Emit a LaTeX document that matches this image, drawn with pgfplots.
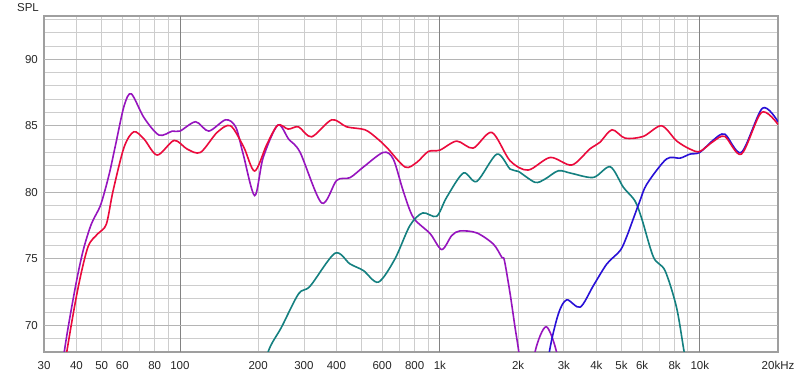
\documentclass[border=0pt]{standalone}
\usepackage{fontspec}
\setmainfont{Liberation Sans}
\usepackage{pgfplots}
\pgfplotsset{compat=1.18}
\definecolor{cpurple}{RGB}{150,20,190}
\definecolor{cred}{RGB}{235,10,60}
\definecolor{cteal}{RGB}{20,128,128}
\definecolor{cblue}{RGB}{40,16,215}
\definecolor{gridl}{RGB}{205,205,205}
\definecolor{gridm}{RGB}{180,180,180}
\definecolor{gridd}{RGB}{130,130,130}
\begin{document}
\begin{tikzpicture}
\path[use as bounding box] (-44pt,-25pt) rectangle (756pt,352pt);
\begin{axis}[
  scale only axis, width=734pt, height=336pt,
  xmode=log, xmin=30, xmax=20000, ymin=68, ymax=93.25,
  axis background/.style={fill=white},
  axis line style={draw=gray!75, line width=1.8pt},
  major tick length=0pt, minor tick length=0pt,
  tick style={draw=none},
  /pgf/number format/assume math mode=true,
  tick label style={font=\fontsize{11.5}{13}\selectfont, text=black!85},
  xtick={30,40,50,60,70,80,90,200,300,400,500,600,700,800,900,2000,3000,4000,5000,6000,7000,8000,9000,20000},
  xticklabels={30,40,50,60,{},80,{},200,300,400,{},600,{},800,{},2k,3k,4k,5k,6k,{},8k,{},20kHz},
  x tick label style={anchor=north, inner sep=0pt, yshift=-9pt},
  extra x ticks={100,1000,10000},
  extra x tick labels={100,1k,10k},
  extra x tick style={grid style={draw=gridd, line width=0.8pt}},
  ytick={68,69,...,93},
  yticklabels={},
  extra y ticks={70,75,80,85,90},
  extra y tick labels={70,75,80,85,90},
  extra y tick style={grid style={draw=gridm, line width=0.8pt}},
  y tick label style={anchor=east, inner sep=0pt, xshift=-6pt},
  xmajorgrids, ymajorgrids,
  grid style={draw=gridl, line width=0.8pt},
  every axis plot/.append style={line width=1.6pt, smooth, no markers},
]
% woofer (purple)
\addplot[cpurple] coordinates {
(33,62) (35.9,68) (39.5,72.75) (42.4,75.6) (45.6,77.6) (49.2,78.9) (51.4,80.1) (53.8,81.6)
(56.6,83.6) (61,86.5) (65,87.4) (72.8,85.6) (83.1,84.3) (93.5,84.6) (100,84.6) (115,85.3)
(129,84.6) (150,85.45) (164,84.9) (175,82.9) (194,79.75) (209,82.6) (238,85.05) (262,84.0) (290,83.0)
(351,79.2) (401,80.9) (451,81.1) (508,81.9) (606,83.0) (662,82.5) (723,80.1) (791,78.1)
(917,76.9) (1017,75.7) (1111,76.75) (1196,77.1) (1387,76.95) (1608,76.1) (1733,75.1)
(1771,74.9) (1863,72.4) (1945,69.9) (2013,68) (2100,65)
};
\addplot[cpurple] coordinates {
(2200,64) (2324,68) (2563,69.9) (2812,68) (2950,65)
};
% mid (teal)
\addplot[cteal] coordinates {
(200,65) (219,68.07) (246,69.87) (286,72.37) (317,72.95) (395,75.42) (451,74.62) (508,74.12)
(580,73.25) (672,75.0) (767,77.5) (859,78.45) (972,78.2) (1062,79.62) (1232,81.45) (1387,80.82)
(1657,82.87) (1863,81.75) (2005,81.57) (2324,80.75) (2541,81.0) (2858,81.62) (3217,81.42)
(3900,81.12) (4523,81.92) (5085,80.37) (5627,79.37) (5985,78.0) (6638,75.12) (7349,74.12)
(8135,71.37) (8710,68) (9300,65)
};
% tweeter (blue)
\addplot[cblue] coordinates {
(2500,64) (2638,68) (2858,70.87) (3078,71.92) (3467,71.37) (3900,73.0) (4391,74.62) (4939,75.62)
(5222,76.62) (5547,78.0) (5889,79.37) (6258,80.62) (7441,82.5) (8402,82.57) (9162,82.87)
(10000,83.0) (11262,83.92) (12485,84.37) (14460,83.0) (17420,86.32) (20000,85.3)
};
% sum (red)
\addplot[cred] coordinates {
(33,62) (36.7,68) (40.5,72.75) (44.3,75.9) (48.4,76.9) (52.1,77.6) (55.3,80.1)
(61,83.4) (66.5,84.55) (72.8,84.0) (81.8,82.8) (95,83.9) (106.6,83.25) (120,83.0) (139,84.5)
(156.6,85.0) (176,83.4) (194,81.6) (216,83.6) (238,85.05) (261,84.75) (286,84.92) (321,84.17)
(384,85.45) (438,84.92) (515,84.7) (572,84.07) (625,83.37) (735,81.9) (815,82.25) (903,83.07)
(1000,83.17) (1161,83.85) (1343,83.32) (1585,84.5) (1863,82.37) (2185,81.67) (2659,82.62)
(3217,82.05) (3771,83.25) (4124,83.75) (4594,84.7) (5160,84.07) (6059,84.2) (7126,85.0)
(8135,83.87) (9162,83.25) (10000,83.07) (11262,83.82) (12485,84.2) (14460,82.87) (17261,86.0)
(20000,85.1)
};
\end{axis}
\node[font=\fontsize{11.5}{13}\selectfont, text=black!85] at (-16pt,344pt) {SPL};
\end{tikzpicture}
\end{document}
